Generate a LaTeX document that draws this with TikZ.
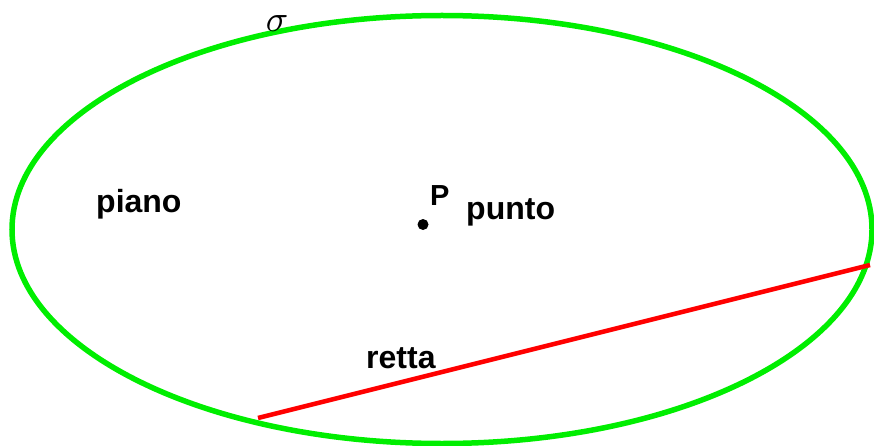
\documentclass[tikz,border=0pt]{standalone}
\usepackage{fontspec}
\usepackage{graphicx}
\setmainfont{Liberation Sans}
\begin{document}
\begin{tikzpicture}[x=1pt,y=-1pt,
  lbl/.style={font=\fontsize{32}{34}\selectfont\bfseries, inner sep=0pt, anchor=base west},
  planecurve/.style={draw={rgb,255:red,0;green,238;blue,0}, line width=5.5pt},
  lineseg/.style={draw={rgb,255:red,255;green,0;blue,0}, line width=4.5pt}]
\useasboundingbox (0,0) rectangle (874,446);
\coordinate (c) at (442,229.5);
\draw[planecurve] (c) ellipse [x radius=430, y radius=214];
\coordinate (a) at (258,418);
\coordinate (b) at (870,265);
\draw[lineseg] (a) -- (b);
\fill (423,224.5) circle [radius=5.5];
\node[lbl] (piano) at (96,213) {piano};
\node[lbl, font=\fontsize{29}{30}\selectfont\bfseries] (P) at (430,206) {P};
\node[lbl] (punto) at (466,219) {punto};
\node[lbl] (retta) at (366,368) {retta};
\node[inner sep=0pt] (sigma) at (277,23.5) {\scalebox{3.7}{$\sigma$}};
\end{tikzpicture}
\end{document}
